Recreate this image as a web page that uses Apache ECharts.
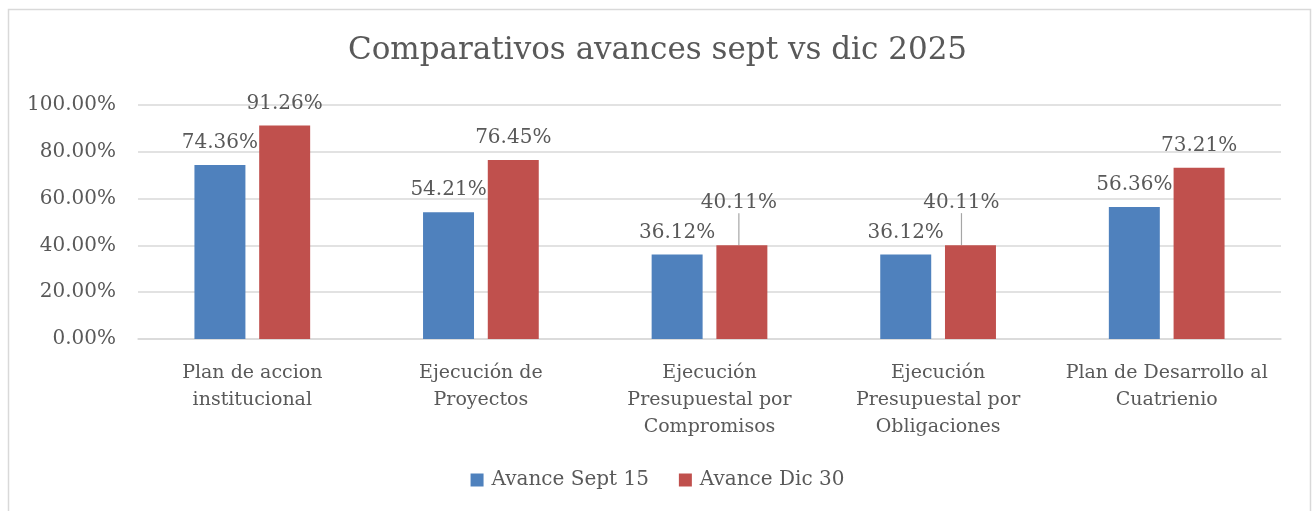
<!DOCTYPE html>
<html>
<head>
<meta charset="utf-8">
<script src="https://cdn.jsdelivr.net/npm/echarts@6/dist/echarts.min.js"></script>
<style>html,body{margin:0;padding:0;background:#fff;}#c{width:1315px;height:511px;}</style>
</head>
<body>
<div id="c"></div>
<script>
const titleText = 'Comparativos avances sept vs dic 2025';
const categories = [
  'Plan de accion\ninstitucional',
  'Ejecución de\nProyectos',
  'Ejecución\nPresupuestal por\nCompromisos',
  'Ejecución\nPresupuestal por\nObligaciones',
  'Plan de Desarrollo al\nCuatrienio'
];
const seriesNames = ['Avance Sept 15', 'Avance Dic 30'];
const sept15 = [74.36, 54.21, 36.12, 36.12, 56.36];
const dic30 = [91.26, 76.45, 40.11, 40.11, 73.21];

const FONT = 'DejaVu Serif';
const TXT = '#595959';
const movedLabels = {2: {dx: -3, dy: -20}, 3: {dx: -9, dy: -20}};
const chart = echarts.init(document.getElementById('c'), null, {renderer: 'canvas'});
const pct = v => v.toFixed(2) + '%';
chart.setOption({
  animation: false,
  textStyle: {fontFamily: FONT},
  graphic: [{
    type: 'rect', left: 6, top: 7, shape: {width: 1302, height: 520},
    style: {fill: 'none', stroke: '#D9D9D9', lineWidth: 1.5}, silent: true
  }],
  title: {
    text: titleText, left: 'center', top: 30,
    textStyle: {fontFamily: FONT, fontSize: 31, fontWeight: 'normal', color: TXT}
  },
  legend: {
    bottom: 16, left: 'center', icon: 'rect', itemWidth: 13, itemHeight: 13, itemGap: 30,
    textStyle: {fontFamily: FONT, fontSize: 20, color: TXT, padding: [0, 0, 0, 3]},
    data: seriesNames
  },
  grid: {left: 138, right: 34, top: 105, bottom: 172, containLabel: false},
  xAxis: {
    type: 'category', data: categories,
    axisLine: {lineStyle: {color: '#D9D9D9', width: 1.5}},
    axisTick: {show: false},
    axisLabel: {fontFamily: FONT, fontSize: 19, color: TXT, lineHeight: 27, margin: 21, interval: 0}
  },
  yAxis: {
    type: 'value', min: 0, max: 100, interval: 20,
    axisLine: {show: false}, axisTick: {show: false},
    splitLine: {lineStyle: {color: '#D9D9D9', width: 1.5}},
    axisLabel: {fontFamily: FONT, fontSize: 20, color: TXT, margin: 22, formatter: v => v.toFixed(2) + '%'}
  },
  series: [
    {
      name: seriesNames[0], type: 'bar', data: sept15, barWidth: '22.3%', barGap: '27%',
      itemStyle: {color: '#4F81BD'},
      label: {show: true, position: 'top', distance: 12, fontFamily: FONT, fontSize: 20, color: TXT, formatter: p => pct(p.value)}
    },
    {
      name: seriesNames[1], type: 'bar', barWidth: '22.3%',
      data: dic30.map((v, i) => movedLabels[i] ? {value: v, labelLine: {show: true}} : {value: v, labelLine: {show: false}}),
      itemStyle: {color: '#C0504D'},
      label: {show: true, position: 'top', distance: 12, fontFamily: FONT, fontSize: 20, color: TXT, formatter: p => pct(p.value)},
      labelLine: {show: false, lineStyle: {color: '#A6A6A6', width: 1.2}},
      labelLayout: function (p) {
        return movedLabels[p.dataIndex] || {};
      }
    }
  ]
});
</script>
</body>
</html>
